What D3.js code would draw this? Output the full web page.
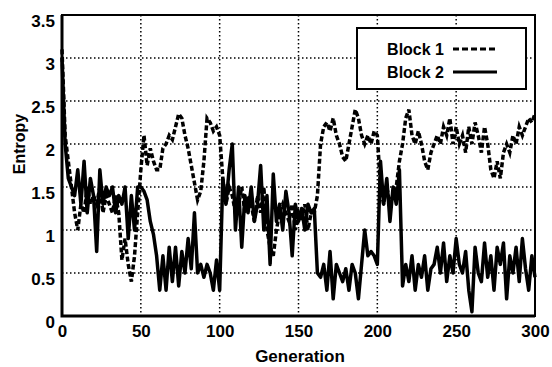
<!DOCTYPE html>
<html>
<head>
<meta charset="utf-8">
<script src="https://cdn.jsdelivr.net/npm/d3@7"></script>
<style>
    body { margin: 0; background: #fff; }
    text { font-family: "Liberation Sans", Arial, sans-serif; font-weight: bold; fill: #000; }
</style>
</head>
<body>
<svg width="552" height="367"></svg>
<script>
// generations are sampled every 2 steps (0, 2, ..., 300)
const generations = d3.range(0, 301, 2);

const block1 = [
    3.1, 2.1, 1.8, 1.5, 1.2, 1.0, 1.3, 1.2, 1.5, 1.3,
    1.4, 1.3, 1.5, 1.2, 1.4, 1.3, 1.2, 1.4, 1.2, 0.65,
    0.9, 0.6, 0.4, 0.7, 1.2, 1.7, 2.1, 1.75, 1.95, 1.8,
    1.7, 1.7, 1.95, 2.0, 2.1, 2.05, 2.2, 2.35, 2.3, 2.1,
    1.95, 1.75, 1.55, 1.35, 1.45, 1.8, 2.3, 2.25, 2.15, 2.2,
    2.1, 1.6, 1.3, 1.5, 1.4, 1.2, 1.3, 1.5, 1.2, 1.4,
    1.3, 1.1, 1.4, 1.2, 1.5, 1.0, 0.8, 0.7, 1.0, 1.2,
    1.3, 1.2, 1.1, 1.3, 1.0, 1.2, 1.1, 1.3, 1.0, 1.2,
    1.2, 1.4, 2.0, 2.2, 2.25, 2.15, 2.3, 2.1, 2.0, 1.85,
    1.8, 2.0, 2.2, 2.4, 2.3, 2.1, 2.0, 2.1, 2.0, 2.15,
    2.1, 1.5, 1.3, 1.5, 1.3, 1.4, 1.5, 1.8, 2.0, 2.3,
    2.4, 2.1, 2.0, 2.15, 2.0, 1.8, 1.7, 1.9, 2.0, 2.1,
    2.0, 2.2, 2.1, 2.3, 2.0, 2.2, 2.0, 2.1, 1.9, 2.2,
    2.0, 2.25, 2.1, 1.9, 2.2, 2.0, 1.7, 1.6, 1.8, 1.6,
    1.9, 2.0, 1.9, 2.1, 2.0, 2.2, 2.1, 2.2, 2.3, 2.25,
    2.35
];

const block2 = [
    3.0, 2.0, 1.6, 1.5, 1.4, 1.7, 1.3, 1.8, 1.2, 1.6,
    1.4, 0.75, 1.7, 1.3, 1.5, 1.4, 1.5, 1.2, 1.4, 1.3,
    1.5, 0.9, 1.4, 1.0, 1.5, 1.5, 1.45, 1.35, 1.1, 0.95,
    0.7, 0.3, 0.7, 0.3, 0.8, 0.4, 0.8, 0.35, 0.75, 0.5,
    0.9, 0.55, 1.2, 0.5, 0.6, 0.45, 0.6, 0.5, 0.3, 0.65,
    0.3, 1.6, 1.3, 1.7, 2.0, 1.0, 1.5, 0.8, 1.4, 1.2,
    1.5, 1.1, 1.3, 1.75, 1.0, 1.4, 0.6, 1.65, 1.1, 1.3,
    1.0, 1.45, 1.2, 0.7, 1.3, 1.1, 1.25, 1.0, 1.3, 1.2,
    1.25, 0.5, 0.45, 0.6, 0.3, 0.75, 0.2, 0.6, 0.5, 0.4,
    0.55, 0.3, 0.6, 0.5, 0.2, 0.6, 1.0, 0.7, 0.75, 0.7,
    0.6, 1.8, 1.3, 1.6, 1.1, 1.5, 1.3, 1.7, 0.35, 0.6,
    0.4, 0.7, 0.3, 0.6, 0.45, 0.7, 0.3, 0.55, 0.6, 0.8,
    0.5, 0.85, 0.4, 0.7, 0.5, 0.9, 0.6, 0.5, 0.75, 0.3,
    0.05, 0.8, 0.5, 0.4, 0.85, 0.45, 0.7, 0.3, 0.8, 0.6,
    0.85, 0.2, 0.7, 0.5, 0.8, 0.4, 0.9, 0.55, 0.3, 0.7,
    0.45
];

const xTicks = [0, 50, 100, 150, 200, 250, 300];
const yTicks = [0, 0.5, 1, 1.5, 2, 2.5, 3, 3.5];
const seriesNames = ["Block 1", "Block 2"];

const margin = { top: 15, right: 17, bottom: 51, left: 62 };
const width = 552 - margin.left - margin.right;
const height = 367 - margin.top - margin.bottom;

const svg = d3.select("svg");
const g = svg.append("g").attr("transform", `translate(${margin.left},${margin.top})`);

const x = d3.scaleLinear().domain([0, 300]).range([0, width]);
const y = d3.scaleLinear().domain([0, 3.5]).range([height, 0]);

// dotted grid
g.append("g")
    .selectAll("line")
    .data(xTicks.slice(1, -1))
    .enter()
    .append("line")
    .attr("x1", d => x(d)).attr("x2", d => x(d))
    .attr("y1", 0).attr("y2", height)
    .attr("stroke", "#000")
    .attr("stroke-width", 1.5)
    .attr("stroke-dasharray", "1.5,2.5");

g.append("g")
    .selectAll("line")
    .data(yTicks.slice(1, -1))
    .enter()
    .append("line")
    .attr("x1", 0).attr("x2", width)
    .attr("y1", d => y(d)).attr("y2", d => y(d))
    .attr("stroke", "#000")
    .attr("stroke-width", 1.5)
    .attr("stroke-dasharray", "1.5,2.5");

// data lines
const line = d3.line()
    .x((d, i) => x(generations[i]))
    .y(d => y(d));

g.append("path")
    .datum(block1)
    .attr("d", line)
    .attr("fill", "none")
    .attr("stroke", "#000")
    .attr("stroke-width", 3.5)
    .attr("stroke-dasharray", "5,2.5");

g.append("path")
    .datum(block2)
    .attr("d", line)
    .attr("fill", "none")
    .attr("stroke", "#000")
    .attr("stroke-width", 3.5)
    .attr("stroke-linejoin", "round");

// axes
const xAxis = g.append("g")
    .attr("transform", `translate(0,${height})`)
    .call(d3.axisBottom(x).tickValues(xTicks).tickSize(0).tickPadding(9));
xAxis.select(".domain").remove();
xAxis.selectAll("text").attr("font-size", 17);

const yAxis = g.append("g")
    .call(d3.axisLeft(y).tickValues(yTicks).tickFormat(d3.format("")).tickSize(0).tickPadding(7));
yAxis.select(".domain").remove();
yAxis.selectAll("text").attr("font-size", 17).attr("dy", "0.68em");

// frame
g.append("rect")
    .attr("width", width)
    .attr("height", height)
    .attr("fill", "none")
    .attr("stroke", "#000")
    .attr("stroke-width", 2);

g.append("path")
    .attr("d", `M0,0V${height}H${width}`)
    .attr("fill", "none")
    .attr("stroke", "#000")
    .attr("stroke-width", 3);

// axis titles
svg.append("text")
    .attr("x", 300)
    .attr("y", 362)
    .attr("text-anchor", "middle")
    .attr("font-size", 17)
    .text("Generation");

svg.append("text")
    .attr("transform", "translate(25,144) rotate(-90)")
    .attr("text-anchor", "middle")
    .attr("font-size", 16)
    .text("Entropy");

// legend
const legend = svg.append("g").attr("transform", "translate(357,28)");

legend.append("rect")
    .attr("width", 169)
    .attr("height", 61)
    .attr("fill", "#fff")
    .attr("stroke", "#000")
    .attr("stroke-width", 2);

const item = legend.selectAll(".item")
    .data(seriesNames)
    .enter()
    .append("g")
    .attr("transform", (d, i) => `translate(0,${21 + i * 23})`);

item.append("text")
    .attr("x", 87)
    .attr("y", 6)
    .attr("text-anchor", "end")
    .attr("font-size", 16)
    .text(d => d);

item.append("line")
    .attr("x1", 96).attr("x2", 140)
    .attr("y1", 0).attr("y2", 0)
    .attr("stroke", "#000")
    .attr("stroke-width", 3)
    .attr("stroke-dasharray", (d, i) => i === 0 ? "6,3" : null);
</script>
</body>
</html>
